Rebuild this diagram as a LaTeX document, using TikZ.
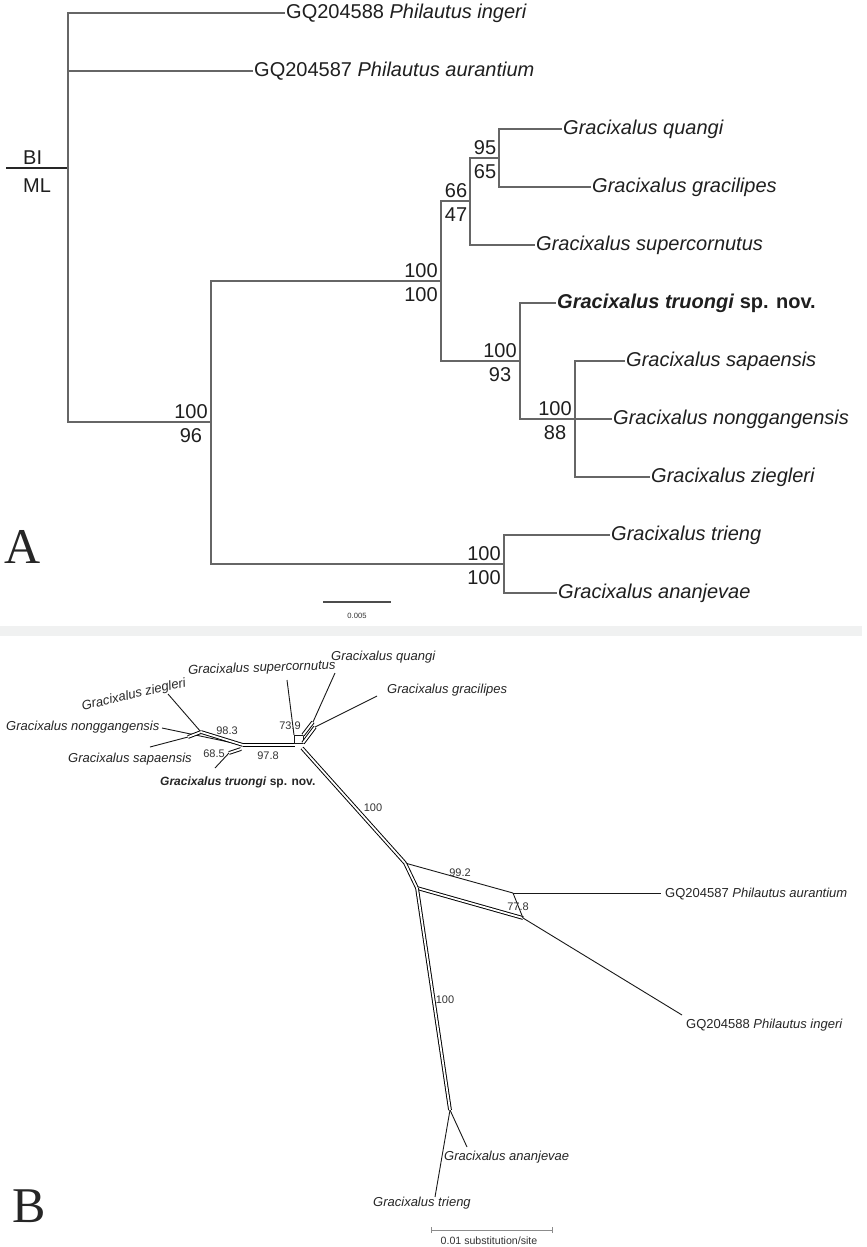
\documentclass[tikz,border=0pt]{standalone}
\usepackage{fontspec}
\setmainfont{Liberation Sans}
\newfontfamily\panelfont{Liberation Serif}
\definecolor{bandgray}{RGB}{240,241,241}
\begin{document}
\begin{tikzpicture}[x=1pt,y=-1pt,
  brA/.style={draw=black!60,line width=1.3pt},
  stubA/.style={draw=black!85,line width=2pt},
  tipA/.style={anchor=west,inner sep=1pt,text=black!88,font=\fontsize{20}{24}\selectfont},
  supA/.style={inner sep=0pt,text=black!88,font=\fontsize{20}{24}\selectfont},
  brB/.style={draw=black!90,line width=0.9pt},
  dblB/.style={draw=black,double=white,double distance=1.8pt,line width=0.95pt},
  tipB/.style={anchor=west,inner sep=1pt,text=black!85,font=\fontsize{13}{15}\selectfont},
  supB/.style={inner sep=0pt,text=black!80,font=\fontsize{11}{13}\selectfont},
  panel/.style={inner sep=0pt,text=black!85,font=\panelfont\fontsize{50}{56}\selectfont},
  scaleA/.style={draw=black!70,line width=1.6pt},
  scaleB/.style={draw=black!45,line width=1pt}
]
\path[use as bounding box] (0,0) rectangle (867,1247);
\fill[white] (0,0) rectangle (867,1247);
\fill[bandgray] (0,626) rectangle (862,636);

% ---------------- Panel A ----------------
\coordinate (stub) at (6,168);
\coordinate (root) at (68,168);
\coordinate (n1) at (211,422);
\coordinate (n2) at (441,281);
\coordinate (n3) at (470,201);
\coordinate (n4) at (499,158);
\coordinate (n5) at (520,361);
\coordinate (n6) at (575,419);
\coordinate (n7) at (504,564);

\draw[stubA] (stub) -- (root);
\node[supA,anchor=west] (bi) at (23,157.5) {BI};
\node[supA,anchor=west] (ml) at (23,185.5) {ML};

\node[tipA] (tIng) at (285,13) {GQ204588 \textit{Philautus ingeri}};
\node[tipA] (tAur) at (253,71) {GQ204587 \textit{Philautus aurantium}};
\node[tipA] (tQua) at (562,129) {\textit{Gracixalus quangi}};
\node[tipA] (tGra) at (591,187) {\textit{Gracixalus gracilipes}};
\node[tipA] (tSup) at (535,245) {\textit{Gracixalus supercornutus}};
\node[tipA] (tTru) at (556,303) {\textbf{\textit{Gracixalus truongi} sp. nov.}};
\node[tipA] (tSap) at (625,361) {\textit{Gracixalus sapaensis}};
\node[tipA] (tNon) at (612,419) {\textit{Gracixalus nonggangensis}};
\node[tipA] (tZie) at (650,477) {\textit{Gracixalus ziegleri}};
\node[tipA] (tTri) at (610,535) {\textit{Gracixalus trieng}};
\node[tipA] (tAna) at (557,593) {\textit{Gracixalus ananjevae}};

\draw[brA] (root) |- (tIng.west);
\draw[brA] (root) |- (tAur.west);
\draw[brA] (root) |- (n1);
\draw[brA] (n1) |- (n2);
\draw[brA] (n1) |- (n7);
\draw[brA] (n2) |- (n3);
\draw[brA] (n2) |- (n5);
\draw[brA] (n3) |- (n4);
\draw[brA] (n3) |- (tSup.west);
\draw[brA] (n4) |- (tQua.west);
\draw[brA] (n4) |- (tGra.west);
\draw[brA] (n5) |- (tTru.west);
\draw[brA] (n5) |- (n6);
\draw[brA] (n6) |- (tSap.west);
\draw[brA] (n6) |- (tNon.west);
\draw[brA] (n6) |- (tZie.west);
\draw[brA] (n7) |- (tTri.west);
\draw[brA] (n7) |- (tAna.west);

\node[supA] (s4a) at (485,147.5) {95};
\node[supA] (s4b) at (485,172) {65};
\node[supA] (s3a) at (456,190.5) {66};
\node[supA] (s3b) at (456,215) {47};
\node[supA] (s2a) at (421,270.5) {100};
\node[supA] (s2b) at (421,295) {100};
\node[supA] (s5a) at (500,350.5) {100};
\node[supA] (s5b) at (500,375) {93};
\node[supA] (s6a) at (555,408.5) {100};
\node[supA] (s6b) at (555,433) {88};
\node[supA] (s1a) at (191,411.5) {100};
\node[supA] (s1b) at (191,436) {96};
\node[supA] (s7a) at (484,553.5) {100};
\node[supA] (s7b) at (484,578) {100};

\coordinate (sa1) at (323,602);
\coordinate (sa2) at (391,602);
\draw[scaleA] (sa1) -- (sa2);
\node[inner sep=0pt,text=black!80,font=\fontsize{7.6}{9}\selectfont] (sal) at (357,616) {0.005};

\node[panel,anchor=base west] (lblA) at (4,563) {A};

% ---------------- Panel B ----------------
\coordinate (vS) at (188,737);
\coordinate (vZ) at (201,732);
\coordinate (vLeft) at (243,745);
\coordinate (vT) at (229,753);
\coordinate (vTb) at (241,749);
\coordinate (vRight) at (295,745);
\coordinate (vR2) at (302,748);
\coordinate (vB1) at (294,735);
\coordinate (vB2) at (303,735);
\coordinate (vB3) at (303,743);
\coordinate (vQ) at (313,722);
\coordinate (vG) at (315,727);
\coordinate (vP) at (405,863);
\coordinate (vA) at (513,893);
\coordinate (vD) at (417,888);
\coordinate (vE) at (523,918);
\coordinate (vU) at (450,1110);

\coordinate (eZie) at (168,694);
\coordinate (eNon) at (162,728);
\coordinate (eSap) at (150,747);
\coordinate (eTru) at (215,768);
\coordinate (eSup) at (287,680);
\coordinate (eQua) at (335,673);
\coordinate (eGra) at (377,696);
\coordinate (eAur) at (661,893);
\coordinate (eIng) at (682,1015);
\coordinate (eAna) at (467,1147);
\coordinate (eTri) at (435,1197);

\node[tipB,anchor=center,rotate=13] (bZie) at (134,695) {\textit{Gracixalus ziegleri}};
\node[tipB] (bNon) at (5,727) {\textit{Gracixalus nonggangensis}};
\node[tipB] (bSap) at (67,759) {\textit{Gracixalus sapaensis}};
\node[tipB,font=\fontsize{12}{14}\selectfont] (bTru) at (159,782) {\textbf{\textit{Gracixalus truongi} sp. nov.}};
\node[tipB,rotate=2] (bSup) at (187,671) {\textit{Gracixalus supercornutus}};
\node[tipB] (bQua) at (330,657) {\textit{Gracixalus quangi}};
\node[tipB] (bGrl) at (386,690) {\textit{Gracixalus gracilipes}};
\node[tipB] (bAur) at (664,894) {GQ204587 \textit{Philautus aurantium}};
\node[tipB] (bIng) at (685,1025) {GQ204588 \textit{Philautus ingeri}};
\node[tipB] (bAna) at (443,1157) {\textit{Gracixalus ananjevae}};
\node[tipB] (bTri) at (372,1203) {\textit{Gracixalus trieng}};

\draw[brB] (eZie) -- (vZ);
\draw[brB] (eNon) -- (vLeft);
\draw[brB] (eSap) -- (vS);
\draw[dblB] (vS) -- (vZ);
\draw[dblB] (vZ) -- (vLeft);
\draw[brB] (eTru) -- (vT);
\draw[dblB] (vT) -- (vTb);
\draw[dblB] (vLeft) -- (vRight);
\draw[brB] (vB1) rectangle (vB3);
\draw[brB] (eSup) -- (vB1);
\draw[dblB] (vB2) -- (vQ);
\draw[dblB] (vB3) -- (vG);
\draw[brB] (eQua) -- (vQ);
\draw[brB] (eGra) -- (vG);
\draw[dblB] (vR2) -- (vP);
\draw[brB] (vP) -- (vA);
\draw[dblB] (vP) -- (vD);
\draw[dblB] (vD) -- (vE);
\draw[brB] (vA) -- (vE);
\draw[brB] (vA) -- (eAur);
\draw[brB] (vE) -- (eIng);
\draw[dblB] (vD) -- (vU);
\draw[brB] (vU) -- (eAna);
\draw[brB] (vU) -- (eTri);

\node[supB] (p983) at (227,731) {98.3};
\node[supB] (p685) at (214,754) {68.5};
\node[supB] (p978) at (268,756) {97.8};
\node[supB] (p739) at (290,726) {73.9};
\node[supB] (p100a) at (373,808) {100};
\node[supB] (p992) at (460,873) {99.2};
\node[supB] (p778) at (518,907) {77.8};
\node[supB] (p100b) at (445,1000) {100};

\coordinate (sb1) at (431,1230);
\coordinate (sb2) at (552,1230);
\draw[scaleB] (sb1) -- (sb2);
\draw[scaleB] ([yshift=3pt]sb1) -- ([yshift=-3pt]sb1);
\draw[scaleB] ([yshift=3pt]sb2) -- ([yshift=-3pt]sb2);
\node[inner sep=0pt,text=black!80,font=\fontsize{10.6}{12}\selectfont] (sbl) at (489,1241) {0.01 substitution/site};

\node[panel,anchor=base west] (lblB) at (12,1222) {B};
\end{tikzpicture}
\end{document}
